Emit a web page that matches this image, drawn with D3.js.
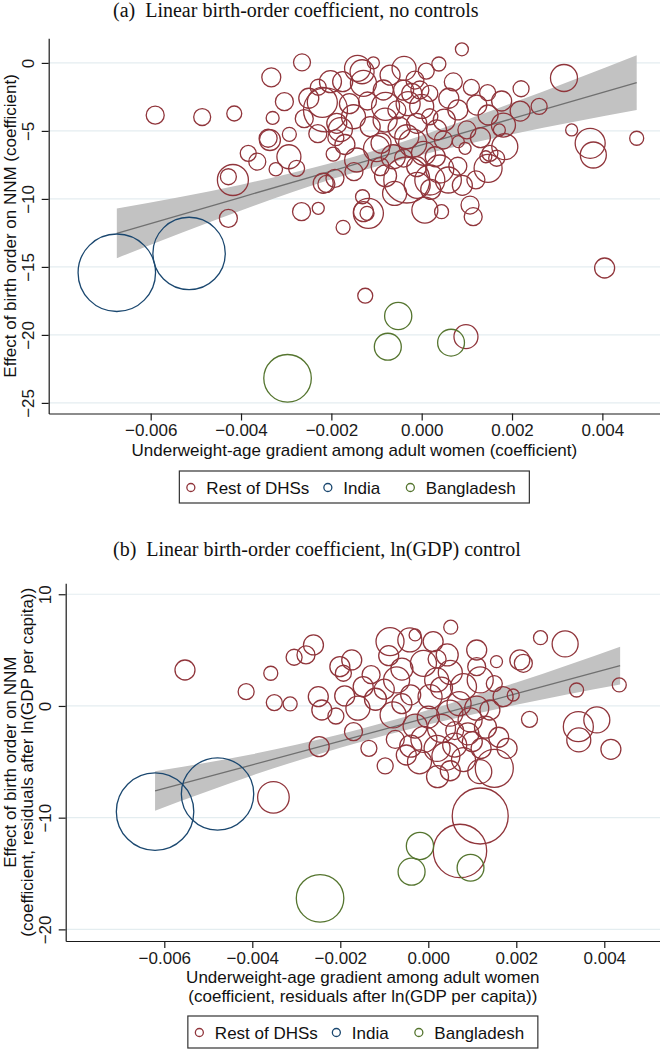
<!DOCTYPE html>
<html>
<head>
<meta charset="utf-8">
<script src="https://cdn.jsdelivr.net/npm/d3@7"></script>
<style>
  body { margin: 0; background: #fff; }
  text { font-family: "Liberation Sans", Arial, sans-serif; }
</style>
</head>
<body>
<svg id="chart" width="660" height="1050"></svg>
<script>
// ---- data: [x gradient, birth-order effect, survey weight] ----
var restA = [
  [-0.0059,-3.84,81],[-0.00486,-3.98,72],[-0.00415,-3.72,56],[-0.0033,-4.05,42],[-0.00333,-1.06,90],
  [-0.00265,0.04,72],[-0.00304,-2.85,81],[-0.00384,-6.65,64],[-0.00364,-7.26,72],[-0.00418,-8.61,240],
  [-0.00428,-8.37,64],[-0.00428,-11.43,81],[-0.00323,-7.82,45],[-0.00294,-6.9,144],[-0.00277,-7.75,64],
  [-0.0034,-5.54,81],[-0.00336,-5.67,110],[-0.00293,-5.25,49],[-0.00266,-10.94,81],[-0.00229,-10.69,36],
  [-0.00218,-8.85,100],[-0.00211,-8.9,72],[-0.00192,-8.49,81],[-0.00174,-12.09,49],[-0.00196,-6.7,49],
  [-0.00144,-7.14,144],[-0.00131,-9.84,49],[-0.00129,-10.94,100],[-0.00121,-11.06,49],[-0.00118,-11.06,225],
  [-0.00202,-1.38,121],[-0.00229,-1.79,64],[-0.00142,-0.4,169],[-0.00107,0.01,36],[-0.00132,-0.65,144],
  [-0.00039,-0.4,144],[-0.00015,-1.26,81],[0.00038,-0.08,49],[0.00089,1.0,42],[0.00315,-1.11,182],
  [0.00146,-2.19,64],[0.00177,-2.8,100],[0.00218,-3.54,100],[0.0008,-3.46,100],[0.00122,-3.1,100],
  [0.00147,-3.83,100],[0.00181,-4.57,144],[0.00172,-4.93,36],[0.001,-4.93,81],[0.00081,-5.79,36],
  [0.00096,-6.28,36],[0.00184,-6.16,169],[0.00151,-6.65,64],[0.00142,-6.9,36],[0.00166,-7.01,64],
  [0.00147,-7.75,196],[0.00332,-4.93,36],[0.00373,-5.91,225],[0.0038,-6.77,169],[0.00476,-5.54,49],
  [0.00059,-8.61,169],[-0.00033,-8.61,529],[0.00007,-10.82,169],[0.00044,-10.94,49],[0.00107,-10.45,81],
  [0.00114,-11.31,81],[-0.00092,-7.63,81],[-0.00063,-6.9,144],[-0.00011,-7.63,100],[0.00004,-6.65,144],
  [0.00018,-8.61,225],[-0.00033,-5.43,144],[-0.00011,-4.44,100],[0.00018,-3.96,64],[-0.00055,-3.46,81],
  [-0.00022,-2.24,100],[-0.00004,-1.99,81],[0.00018,-2.24,64],[-0.00081,-4.2,144],[-0.00114,-4.69,100],
  [-0.00151,-3.96,144],[-0.00188,-4.44,100],[0.00033,-4.93,100],[0.00048,-5.67,81],[-0.00129,-1.5,169],
  [-0.00085,-1.99,100],[-0.00175,-1.38,100],[0.00405,-15.08,100],[-0.00125,-17.12,56],[0.00098,-20.13,144],
  [-0.00213,-3.46,484],[-0.0025,-2.6,100],[-0.0022,-2.9,225],[-0.0018,-4.9,144],[-0.0026,-4.1,81],
  [-0.0023,-5.2,81],[-0.0019,-5.5,64],[-0.0016,-3.0,100],[-0.0012,-2.8,81],[-0.0008,-3.2,196],
  [-0.0005,-4.8,121],[-0.0002,-5.9,196],[0.0003,-6.9,100],[-0.0004,-7.0,81],[0.0011,-1.8,64],
  [0.0006,-2.6,100],[0.0013,-5.5,100],[-0.0009,-5.9,100],[0.0002,-9.3,100],[-0.0006,-9.6,144],
  [0.0008,-7.6,81],[-0.0015,-8.0,81],[0.0026,-3.2,64],[0.0022,-1.9,64],[-0.0007,-0.9,100],[0.0001,-0.6,64],
  [-0.0003,-3.0,144],[0.0005,-4.2,121],[-0.001,-6.3,169],[0.0004,-7.8,196],[-0.0001,-9.0,169],
  [0.0009,-9.0,100],[-0.0008,-8.3,121],[0.0012,-8.6,81],[-0.0017,-6.0,100],[0.0,-3.2,144],
  [0.0007,-1.4,81],[-0.0004,-2.0,100]
];
var indiaA = [[-0.00675,-15.43,1500],[-0.00515,-14.01,1310]];
var bangA = [[-0.00052,-18.61,185],[-0.00075,-20.87,182],[0.00065,-20.57,180],[-0.00297,-23.19,565]];

var restB = [
  [-0.00553,3.22,100],[-0.00414,1.28,64],[-0.00358,2.93,49],[-0.0035,0.3,64],[-0.00314,0.18,49],
  [-0.00305,4.36,64],[-0.00278,4.57,81],[-0.00261,5.46,100],[-0.0025,0.83,100],[-0.00242,-0.36,100],
  [0.00051,7.05,49],[0.00255,6.11,49],[0.00311,5.55,169],[0.00337,1.43,49],[0.00434,1.88,49],
  [0.00208,4.12,100],[0.00216,3.82,81],[0.00155,3.97,36],[0.00341,-1.85,225],[0.00383,-1.25,169],
  [0.00415,-3.88,100],[0.00342,-3.04,144],[-0.00087,5.76,196],[-0.00042,5.91,144],[-0.0003,6.36,36],
  [0.00011,5.76,100],[0.00043,4.57,121],[0.0011,5.01,100],[0.0017,0.83,100],[0.00193,0.98,36],
  [-0.00174,4.12,100],[-0.00201,3.52,100],[-0.00193,2.93,64],[-0.00148,1.73,100],[-0.00072,2.33,169],
  [-0.00011,3.82,169],[0.00019,2.33,144],[0.0008,1.73,169],[0.00118,2.33,169],[0.0011,3.52,81],
  [0.00004,0.83,144],[0.00049,-0.65,169],[0.00095,-1.25,144],[0.0014,-0.36,100],[-0.00352,-8.18,250],
  [0.00118,-9.85,784],[0.00072,-12.98,713],[-0.00248,-3.64,100],[-0.00135,-3.79,64],[-0.00098,-5.37,64],
  [-0.0005,-4.39,100],[0.00021,-6.33,121],[0.0015,-5.58,361],[0.00117,-5.88,144],[0.00179,-3.79,100],
  [-0.0019,0.9,100],[-0.0016,-0.2,144],[-0.0012,0.6,121],[-0.0008,-0.8,169],[-0.0004,1.0,100],
  [0.0003,-2.0,196],[-0.0001,-3.0,169],[0.0006,-3.5,144],[0.0009,-2.5,121],[0.0004,-4.5,196],
  [-0.0002,-5.0,144],[0.0012,-3.8,100],[-0.0006,3.3,121],[-0.0013,2.8,81],[0.0005,3.0,144],
  [0.0015,2.0,64],[-0.0009,4.5,100],[0.0002,4.2,81],[-0.0021,-0.9,64],[-0.0017,-2.3,81],
  [0.0023,-1.2,64],[0.0007,0.2,144],[-0.0003,-1.8,144],[0.0013,-1.9,121],[-0.00075,-3.0,81],
  [0.0002,-3.8,169],[0.0008,-4.8,144],[0.001,-3.2,100],[-0.0004,-3.6,121],[0.0005,-5.8,100],
  [0.0,-1.0,121],[0.0011,-0.2,144],[-0.0006,0.2,100],[0.0003,1.6,121],[-0.001,1.5,100],
  [0.0016,-2.8,100],[0.0006,-2.2,81]
];
var indiaB = [[-0.00621,-9.46,1500],[-0.00479,-7.88,1310]];
var bangB = [[-0.00019,-12.53,185],[-0.00038,-14.83,182],[0.00096,-14.48,180],[-0.00246,-17.22,565]];

// linear fit with 95% CI, read at a few x positions
var fitXA = [-0.00675,-0.004,-0.002,0,0.002,0.00476];
var fitYA = [-12.53,-9.88,-7.96,-6.03,-4.10,-1.45];
var ciLoA = [-14.36,-10.85,-8.56,-6.75,-5.25,-3.47];
var ciHiA = [-10.70,-8.95,-7.36,-5.33,-2.95,0.57];

var fitXB = [-0.00621,-0.004,-0.002,0,0.002,0.00436];
var fitYB = [-7.61,-5.27,-3.14,-1.02,1.10,3.61];
var ciLoB = [-9.37,-6.22,-3.74,-1.67,0.10,1.91];
var ciHiB = [-5.85,-4.32,-2.54,-0.37,2.10,5.31];

var xTicks = [-0.006,-0.004,-0.002,0,0.002,0.004];
var yTicksA = [0,-5,-10,-15,-20,-25];
var yTicksB = [10,0,-10,-20];

var legendNames = ["Rest of DHSs","India","Bangladesh"];
var colors = ["#90353b","#1a476f","#55752f"];

var svg = d3.select("#chart");
var rScale = d3.scaleSqrt().domain([0,1600]).range([0,40]);
var fs = 17;

function drawPanel(p) {
  var g = svg.append("g");
  var x = d3.scaleLinear().domain(p.xDom).range([p.left, p.right]);
  var y = d3.scaleLinear().domain(p.yDom).range([p.bottom, p.top]);

  // grid
  g.selectAll("line.grid").data(p.yTicks).enter().append("line")
    .attr("class","grid")
    .attr("x1", p.left).attr("x2", p.right)
    .attr("y1", function(d){ return y(d); }).attr("y2", function(d){ return y(d); })
    .attr("stroke", "#e4edf0").attr("stroke-width", 1.2);

  // CI band + fitted line
  var rows = p.fitX.map(function(v,i){ return {x:v, f:p.fitY[i], lo:p.lo[i], hi:p.hi[i]}; });
  g.append("path").datum(rows)
    .attr("d", d3.area().curve(d3.curveMonotoneX)
      .x(function(d){ return x(d.x); })
      .y0(function(d){ return y(d.lo); })
      .y1(function(d){ return y(d.hi); }))
    .attr("fill", "#c2c2c2");
  g.append("path").datum(rows)
    .attr("d", d3.line().x(function(d){ return x(d.x); }).y(function(d){ return y(d.f); }))
    .attr("fill", "none").attr("stroke", "#707070").attr("stroke-width", 1.3);

  // bubbles
  p.groups.forEach(function(grp, gi) {
    g.append("g").selectAll("circle").data(grp).enter().append("circle")
      .attr("cx", function(d){ return x(d[0]); })
      .attr("cy", function(d){ return y(d[1]); })
      .attr("r", function(d){ return rScale(d[2]); })
      .attr("fill", "none")
      .attr("stroke", colors[gi])
      .attr("stroke-width", 1.3);
  });

  // axes
  var xa = g.append("g").attr("transform", "translate(0," + p.bottom + ")")
    .call(d3.axisBottom(x).tickValues(xTicks).tickFormat(d3.format(".3f"))
      .tickSize(7).tickSizeOuter(0).tickPadding(3.5));
  var ya = g.append("g").attr("transform", "translate(" + p.left + ",0)")
    .call(d3.axisLeft(y).tickValues(p.yTicks).tickFormat(d3.format("d"))
      .tickSize(7).tickSizeOuter(0));
  [xa, ya].forEach(function(a) {
    a.attr("font-size", fs).attr("font-family", "Liberation Sans, Arial, sans-serif").attr("color", "#1a1a1a");
    a.selectAll("path,line").attr("stroke-width", 1.2);
  });
  ya.selectAll(".tick text")
    .attr("x", 0).attr("y", -15).attr("dy", 0)
    .attr("text-anchor", "middle")
    .attr("transform", "rotate(-90)");

  // titles
  g.append("text").attr("x", 113).attr("y", p.titleY)
    .style("font-family", "Liberation Serif, Times New Roman, serif")
    .attr("font-size", 20).attr("fill", "#111")
    .attr("xml:space", "preserve")
    .text(p.title);

  var cx = (p.left + p.right) / 2;
  p.xTitle.forEach(function(t, i) {
    g.append("text").attr("x", cx).attr("y", p.xTitleY + i * 18.5)
      .attr("text-anchor", "middle").attr("font-size", fs).attr("fill", "#111").text(t);
  });
  var cy = (p.top + p.bottom) / 2;
  p.yTitle.forEach(function(t, i) {
    g.append("text").attr("transform", "translate(" + (p.yTitleX + i * 17) + "," + cy + ") rotate(-90)")
      .attr("text-anchor", "middle").attr("font-size", fs).attr("fill", "#111").text(t);
  });

  // legend
  var lg = g.append("g").attr("transform", "translate(" + (cx - 175) + "," + p.legendY + ")");
  lg.append("rect").attr("width", 350).attr("height", 32)
    .attr("fill", "#fff").attr("stroke", "#333").attr("stroke-width", 1.2);
  var offs = [11.5, 148.5, 231];
  legendNames.forEach(function(n, i) {
    lg.append("circle").attr("cx", offs[i]).attr("cy", 16.5).attr("r", 4)
      .attr("fill", "none").attr("stroke", colors[i]).attr("stroke-width", 1.3);
    lg.append("text").attr("x", offs[i] + 15.5).attr("y", 22.5)
      .attr("font-size", fs).attr("fill", "#111").text(n);
  });
}

drawPanel({
  left: 48.7, right: 660, top: 38.3, bottom: 413.5,
  xDom: [-0.008258, 0.005276], yDom: [-25.78, 1.81],
  yTicks: yTicksA, groups: [restA, indiaA, bangA],
  fitX: fitXA, fitY: fitYA, lo: ciLoA, hi: ciHiA,
  title: "(a)  Linear birth-order coefficient, no controls", titleY: 17,
  xTitle: ["Underweight-age gradient among adult women (coefficient)"], xTitleY: 455.5,
  yTitle: ["Effect of birth order on NNM (coefficient)"], yTitleX: 15.5,
  legendY: 471
});

drawPanel({
  left: 65.7, right: 660, top: 583.3, bottom: 941,
  xDom: [-0.008241, 0.005266], yDom: [-21.04, 10.98],
  yTicks: yTicksB, groups: [restB, indiaB, bangB],
  fitX: fitXB, fitY: fitYB, lo: ciLoB, hi: ciHiB,
  title: "(b)  Linear birth-order coefficient, ln(GDP) control", titleY: 556,
  xTitle: ["Underweight-age gradient among adult women", "(coefficient, residuals after ln(GDP per capita))"], xTitleY: 983,
  yTitle: ["Effect of birth order on NNM", "(coefficient, residuals after ln(GDP per capita))"], yTitleX: 15.5,
  legendY: 1016
});
</script>
</body>
</html>
